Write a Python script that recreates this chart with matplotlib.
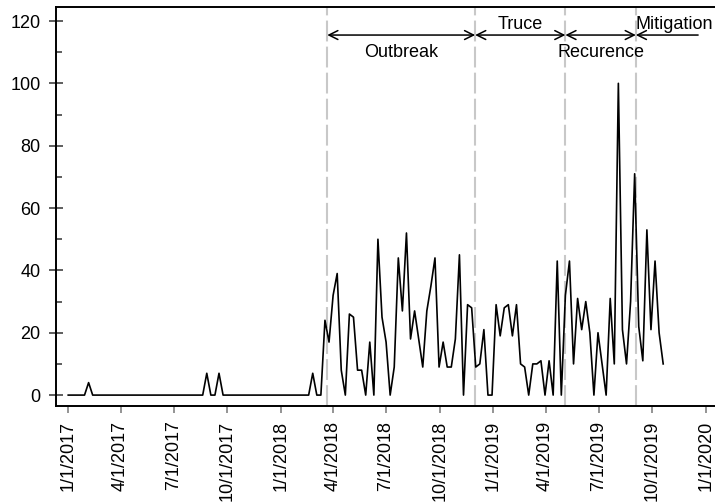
import matplotlib
matplotlib.use("Agg")
import matplotlib.pyplot as plt
import matplotlib.dates as mdates
import pandas as pd
import numpy as np

plt.rcParams['font.family'] = ['Liberation Sans', 'DejaVu Sans']

start_date = "2017-01-01"
values = [0, 0, 0, 0, 0, 4, 0, 0, 0, 0,
          0, 0, 0, 0, 0, 0, 0, 0, 0, 0,
          0, 0, 0, 0, 0, 0, 0, 0, 0, 0,
          0, 0, 0, 0, 7, 0, 0, 7, 0, 0,
          0, 0, 0, 0, 0, 0, 0, 0, 0, 0,
          0, 0, 0, 0, 0, 0, 0, 0, 0, 0,
          7, 0, 0, 24, 17, 32, 39, 8, 0, 26,
          25, 8, 8, 0, 17, 0, 50, 25, 17, 0,
          9, 44, 27, 52, 18, 27, 18, 9, 27, 35,
          44, 9, 17, 9, 9, 18, 45, 0, 29, 28,
          9, 10, 21, 0, 0, 29, 19, 28, 29, 19,
          29, 10, 9, 0, 10, 10, 11, 0, 11, 0,
          43, 0, 32, 43, 10, 31, 21, 30, 20, 0,
          20, 10, 0, 31, 10, 100, 21, 10, 30, 71,
          22, 11, 53, 21, 43, 20, 10]
dates = pd.date_range(start_date, periods=len(values), freq="7D")

phase_bounds = ["2018-03-22", "2018-12-01", "2019-05-05", "2019-09-03"]
mitigation_end = "2019-12-19"
phase_names = ["Outbreak", "Truce", "Recurence", "Mitigation"]

tick_dates = pd.date_range("2017-01-01", "2020-01-01", freq="QS")
tick_labels = [f"{d.month}/{d.day}/{d.year}" for d in tick_dates]

fig = plt.figure(figsize=(7.15, 5.04), dpi=100)
ax = fig.add_axes([56/715, (504-406)/504, (715-56)/715, (406-7.3)/504])

ax.plot(dates, values, color='black', lw=1.2, zorder=3)

for b in phase_bounds:
    ax.axvline(pd.Timestamp(b), color='#c8c8c8', lw=1.5, dashes=(10, 2.5), zorder=1)

pb = [pd.Timestamp(b) for b in phase_bounds] + [pd.Timestamp(mitigation_end)]
ya = 115.5
for i in range(3):
    ax.annotate('', xy=(pb[i], ya), xytext=(pb[i+1], ya),
                arrowprops=dict(arrowstyle='<->', lw=1.1, color='black',
                                shrinkA=0, shrinkB=0, mutation_scale=16))
ax.annotate('', xy=(pb[3], ya), xytext=(pb[4], ya),
            arrowprops=dict(arrowstyle='->', lw=1.1, color='black',
                            shrinkA=0, shrinkB=0, mutation_scale=16))

fs = 13
mid = lambda a, b: a + (b - a) / 2
ax.text(mid(pb[0], pb[1]), 110, phase_names[0], ha='center', va='center', fontsize=fs)
ax.text(mid(pb[1], pb[2]), 118.8, phase_names[1], ha='center', va='center', fontsize=fs)
ax.text(mid(pb[2], pb[3]), 110, phase_names[2], ha='center', va='center', fontsize=fs)
ax.text(pb[3], 118.8, phase_names[3], ha='left', va='center', fontsize=fs)

ax.set_ylim(-3.5, 124.4)
ax.set_xlim(pd.Timestamp("2016-12-11"), pd.Timestamp("2020-01-17"))
ax.set_yticks(np.arange(0, 121, 20))
ax.set_yticks(np.arange(10, 121, 20), minor=True)
ax.set_xticks(tick_dates)
ax.set_xticklabels(tick_labels, rotation=90, fontsize=fs)
ax.tick_params(axis='y', which='major', direction='inout', length=10, width=1.1,
               color='#333333', labelsize=fs, pad=6)
ax.tick_params(axis='y', which='minor', direction='in', length=4.5, width=1.1, color='#333333')
ax.tick_params(axis='x', which='major', direction='out', length=5, width=1.1,
               color='#777777', pad=5.5)
for s in ['left', 'bottom', 'top']:
    ax.spines[s].set_linewidth(1.4)
ax.spines['right'].set_visible(False)

fig.savefig("out.png", dpi=100)
